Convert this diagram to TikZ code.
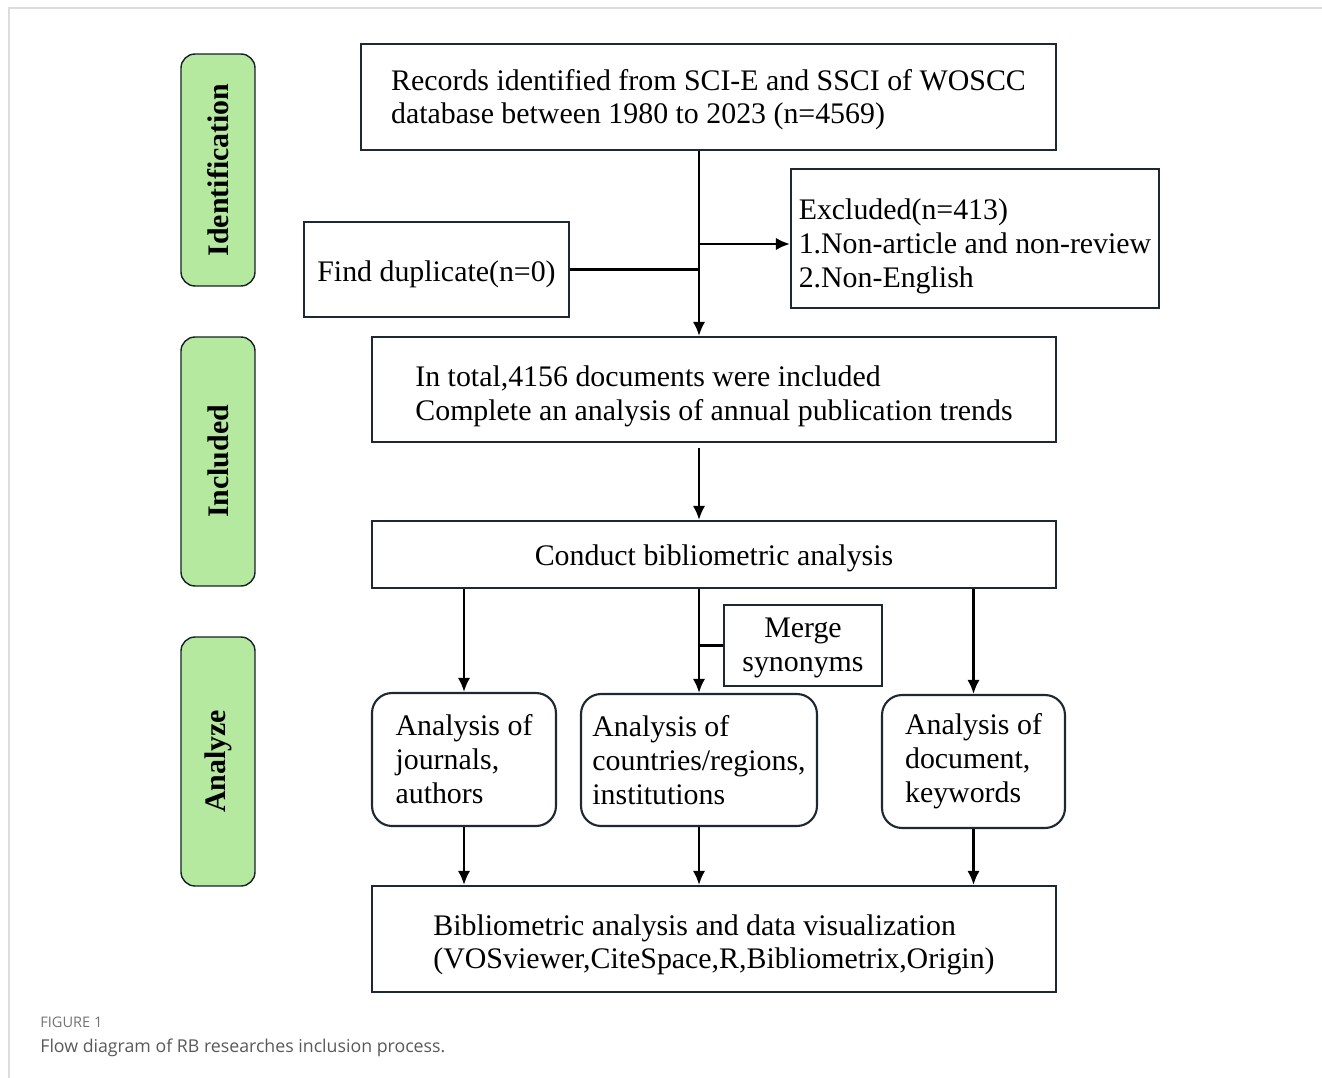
\documentclass[tikz,border=0pt]{standalone}
\usepackage{fontspec}
\setmainfont{Liberation Serif}
\newfontfamily\capfont{Open Sans}
\usetikzlibrary{arrows.meta}
\definecolor{boxline}{RGB}{28,40,51}
\definecolor{labgreen}{RGB}{182,233,160}
\definecolor{framegray}{RGB}{220,220,220}
\newcommand{\lift}[1]{\rule{0pt}{#1}}
\begin{document}
\begin{tikzpicture}[x=0.02cm,y=-0.02cm,
  box/.style={draw=boxline, line width=1.2pt, align=left, inner sep=0pt,
    font=\fontsize{17}{19.3}\selectfont},
  rbox/.style={box, rounded corners=0.4cm},
  lab/.style={draw=boxline!80!black, line width=0.8pt, fill=labgreen, rounded corners=0.28cm,
    minimum width=1.48cm, inner sep=0pt},
  labtext/.style={rotate=90, font=\fontsize{17}{19}\selectfont\bfseries},
  arr/.style={line width=1.3pt, -{Latex[length=8pt,width=7pt]}},
  ln/.style={line width=1.3pt}]
\useasboundingbox (0,0) rectangle (1322,1078);
% frame
\draw[framegray, line width=1.2pt] (9,1078) -- (9,8) -- (1322,8);
% side labels
\node[lab, minimum height=4.64cm] (lid) at (218,170) {};
\node[labtext] (tid) at (lid.center) {Identification};
\node[lab, minimum height=4.98cm] (linc) at (218,461.5) {};
\node[labtext] (tinc) at (linc.center) {Included};
\node[lab, minimum height=4.98cm] (lana) at (218,761.5) {};
\node[labtext] (tana) at (lana.center) {Analyze};
% boxes
\node[box, minimum width=13.9cm, minimum height=2.12cm] (top) at (708.5,97)
  {\lift{15pt}Records identified from SCI-E and SSCI of WOSCC\\database between 1980 to 2023 (n=4569)};
\node[box, minimum width=5.3cm, minimum height=1.9cm] (dup) at (436.5,269.5)
  {\lift{17.3pt}Find duplicate(n=0)};
\node[box, minimum width=7.36cm, minimum height=2.78cm] (excl) at (975,238.5)
  {\lift{20.7pt}Excluded(n=413)\\1.Non-article and non-review\\2.Non-English};
\node[box, minimum width=13.68cm, minimum height=2.1cm] (total) at (714,389.5)
  {\lift{19.6pt}In total,4156 documents were included\\Complete an analysis of annual publication trends};
\node[box, minimum width=13.68cm, minimum height=1.34cm] (conduct) at (714,554.5)
  {\lift{16.2pt}Conduct bibliometric analysis};
\node[box, align=center, minimum width=3.16cm, minimum height=1.62cm] (merge) at (803,645.5)
  {\lift{14pt}Merge\\synonyms};
\node[rbox, minimum width=3.68cm, minimum height=2.66cm] (a1) at (464,759.5)
  {Analysis of\\journals,\\authors};
\node[rbox, minimum width=4.72cm, minimum height=2.64cm] (a2) at (699,760)
  {Analysis of\\countries/regions,\\institutions};
\node[rbox, minimum width=3.66cm, minimum height=2.66cm] (a3) at (973.5,761.5)
  {Analysis of\\document,\\keywords};
\node[box, minimum width=13.68cm, minimum height=2.12cm] (final) at (714,939)
  {\lift{18.5pt}Bibliometric analysis and data visualization\\(VOSviewer,CiteSpace,R,Bibliometrix,Origin)};
% connectors
\draw[arr] (top.south -| a2.north) -- (total.north -| a2.north);
\draw[ln] (dup.east) -- (dup.east -| a2.north);
\draw[arr] ([yshift=-0.11cm]excl.west -| a2.north) -- ([yshift=-0.11cm]excl.west);
\draw[arr] ([yshift=-0.1cm]total.south -| a2.north) -- (conduct.north -| a2.north);
\draw[arr] (conduct.south -| a1.north) -- (a1.north);
\draw[arr] (conduct.south -| a2.north) -- (a2.north);
\draw[arr] (conduct.south -| a3.north) -- (a3.north);
\draw[ln] (merge.west) -- (merge.west -| a2.north);
\draw[arr] (a1.south) -- (final.north -| a1.south);
\draw[arr] (a2.south) -- (final.north -| a2.south);
\draw[arr] (a3.south) -- (final.north -| a3.south);
% caption
\node[anchor=base west, inner sep=0pt, font=\capfont\fontsize{8.3}{10}\selectfont, text=black!55] (fig) at (40,1027) {FIGURE 1};
\node[anchor=base west, inner sep=0pt, font=\capfont\fontsize{10.1}{12}\selectfont, text=black!65] (cap) at (40,1052) {Flow diagram of RB researches inclusion process.};
\end{tikzpicture}
\end{document}
